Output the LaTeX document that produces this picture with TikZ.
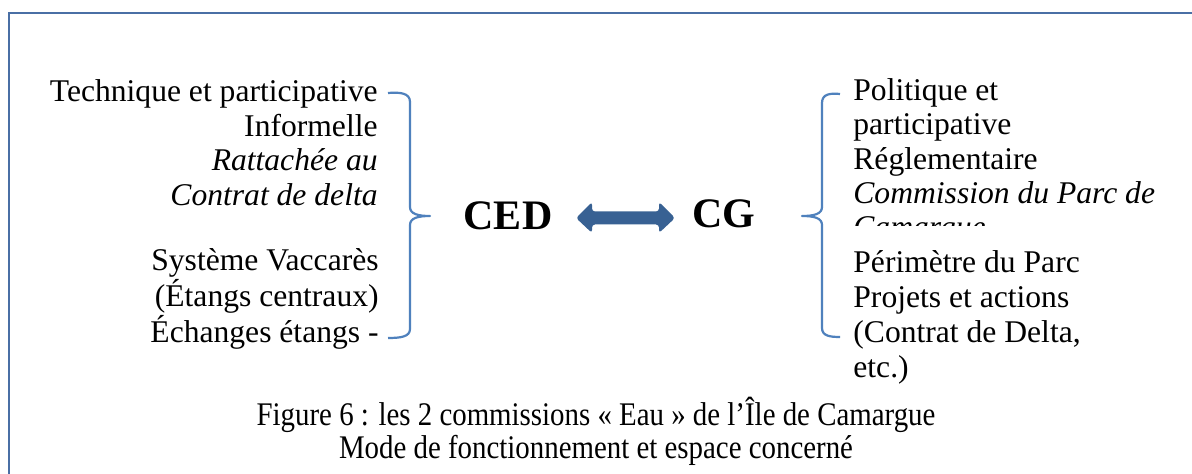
\documentclass[tikz,border=0pt]{standalone}
\usepackage{fontspec}
\setmainfont{Liberation Serif}
\usetikzlibrary{calc}
\definecolor{framec}{HTML}{4A6FA5}
\definecolor{bracec}{HTML}{4F81BD}
\definecolor{arrowc}{HTML}{386193}
\tikzset{
  lt/.style={anchor=base east, inner sep=0pt, font=\fontsize{15.8}{17}\selectfont},
  rt/.style={anchor=base west, inner sep=0pt, font=\fontsize{15.8}{17}\selectfont},
  big/.style={anchor=base, inner sep=0pt, font=\fontsize{21}{24}\selectfont\bfseries},
  captext/.style={anchor=base, inner sep=0pt, font=\fontsize{16.5}{18}\selectfont},
  brace/.style={draw=bracec, line width=1.1pt, line join=round},
}
\begin{document}
\begin{tikzpicture}[x=0.5pt,y=-0.5pt]
\useasboundingbox (0,0) rectangle (1192,474);
\clip (0,0) rectangle (1192,474);
\fill[white] (0,0) rectangle (1192,474);
\draw[framec, line width=0.9pt] (9,13) rectangle (1220,500);
% left column
\node[lt] (l1) at (378,102) {Technique et participative};
\node[lt] (l2) at (378,136.5) {Informelle};
\node[lt] (l3) at (378,171) {\itshape Rattachée au};
\node[lt] (l4) at (378,206) {\itshape Contrat de delta};
\node[lt] (l5) at (379,271) {Système Vaccarès};
\node[lt] (l6) at (379,307) {(Étangs centraux)};
\node[lt] (l7) at (379,343) {Échanges étangs -};
% right column
\node[rt] (r1) at (853,100.5) {Politique et};
\node[rt] (r2) at (853,135) {participative};
\node[rt] (r3) at (853,169.5) {Réglementaire};
\node[rt] (r4) at (853,204) {\itshape Commission du Parc de};
\begin{scope}
\clip (840,200) rectangle (1180,226);
\node[rt] (r5) at (853,238) {\itshape Camargue};
\end{scope}
\node[rt] (r6) at (853,272.5) {Périmètre du Parc};
\node[rt] (r7) at (853,308) {Projets et actions};
\node[rt] (r8) at (853,343) {(Contrat de Delta,};
\node[rt] (r9) at (853,378) {etc.)};
% braces
\draw[brace] (388,93) .. controls (400,92) and (410,93) .. (410,102)
  -- (410,207) .. controls (410,214) and (418,216) .. (430,216)
  .. controls (418,216) and (410,218) .. (410,225)
  -- (410,329) .. controls (410,337) and (400,338) .. (388,338);
\draw[brace] (840,94) .. controls (830,93) and (822,94) .. (822,103)
  -- (822,207) .. controls (822,214) and (814,216) .. (802,216)
  .. controls (814,216) and (822,218) .. (822,225)
  -- (822,328) .. controls (822,336) and (830,337) .. (840,337);
% centre
\node[big] (ced) at (508,230) {CED};
\node[big] (cg) at (724,228) {CG};
\coordinate (aL) at (576,218);
\coordinate (aR) at (675,218);
\fill[arrowc, rounded corners=1.5pt] (aL) -- ($(aL)+(16,-16)$) -- ($(aL)+(16,-6.5)$)
  -- ($(aR)+(-16,-6.5)$) -- ($(aR)+(-16,-16)$) -- (aR) -- ($(aR)+(-16,15)$)
  -- ($(aR)+(-16,6.5)$) -- ($(aL)+(16,6.5)$) -- ($(aL)+(16,15)$) -- cycle;
% caption
\node[captext] (c1) at (596,426) {\scalebox{0.875}[1]{Figure 6 : les 2 commissions « Eau » de l’Île de Camargue}};
\node[captext] (c2) at (596,459) {\scalebox{0.875}[1]{Mode de fonctionnement et espace concerné}};
\end{tikzpicture}
\end{document}
